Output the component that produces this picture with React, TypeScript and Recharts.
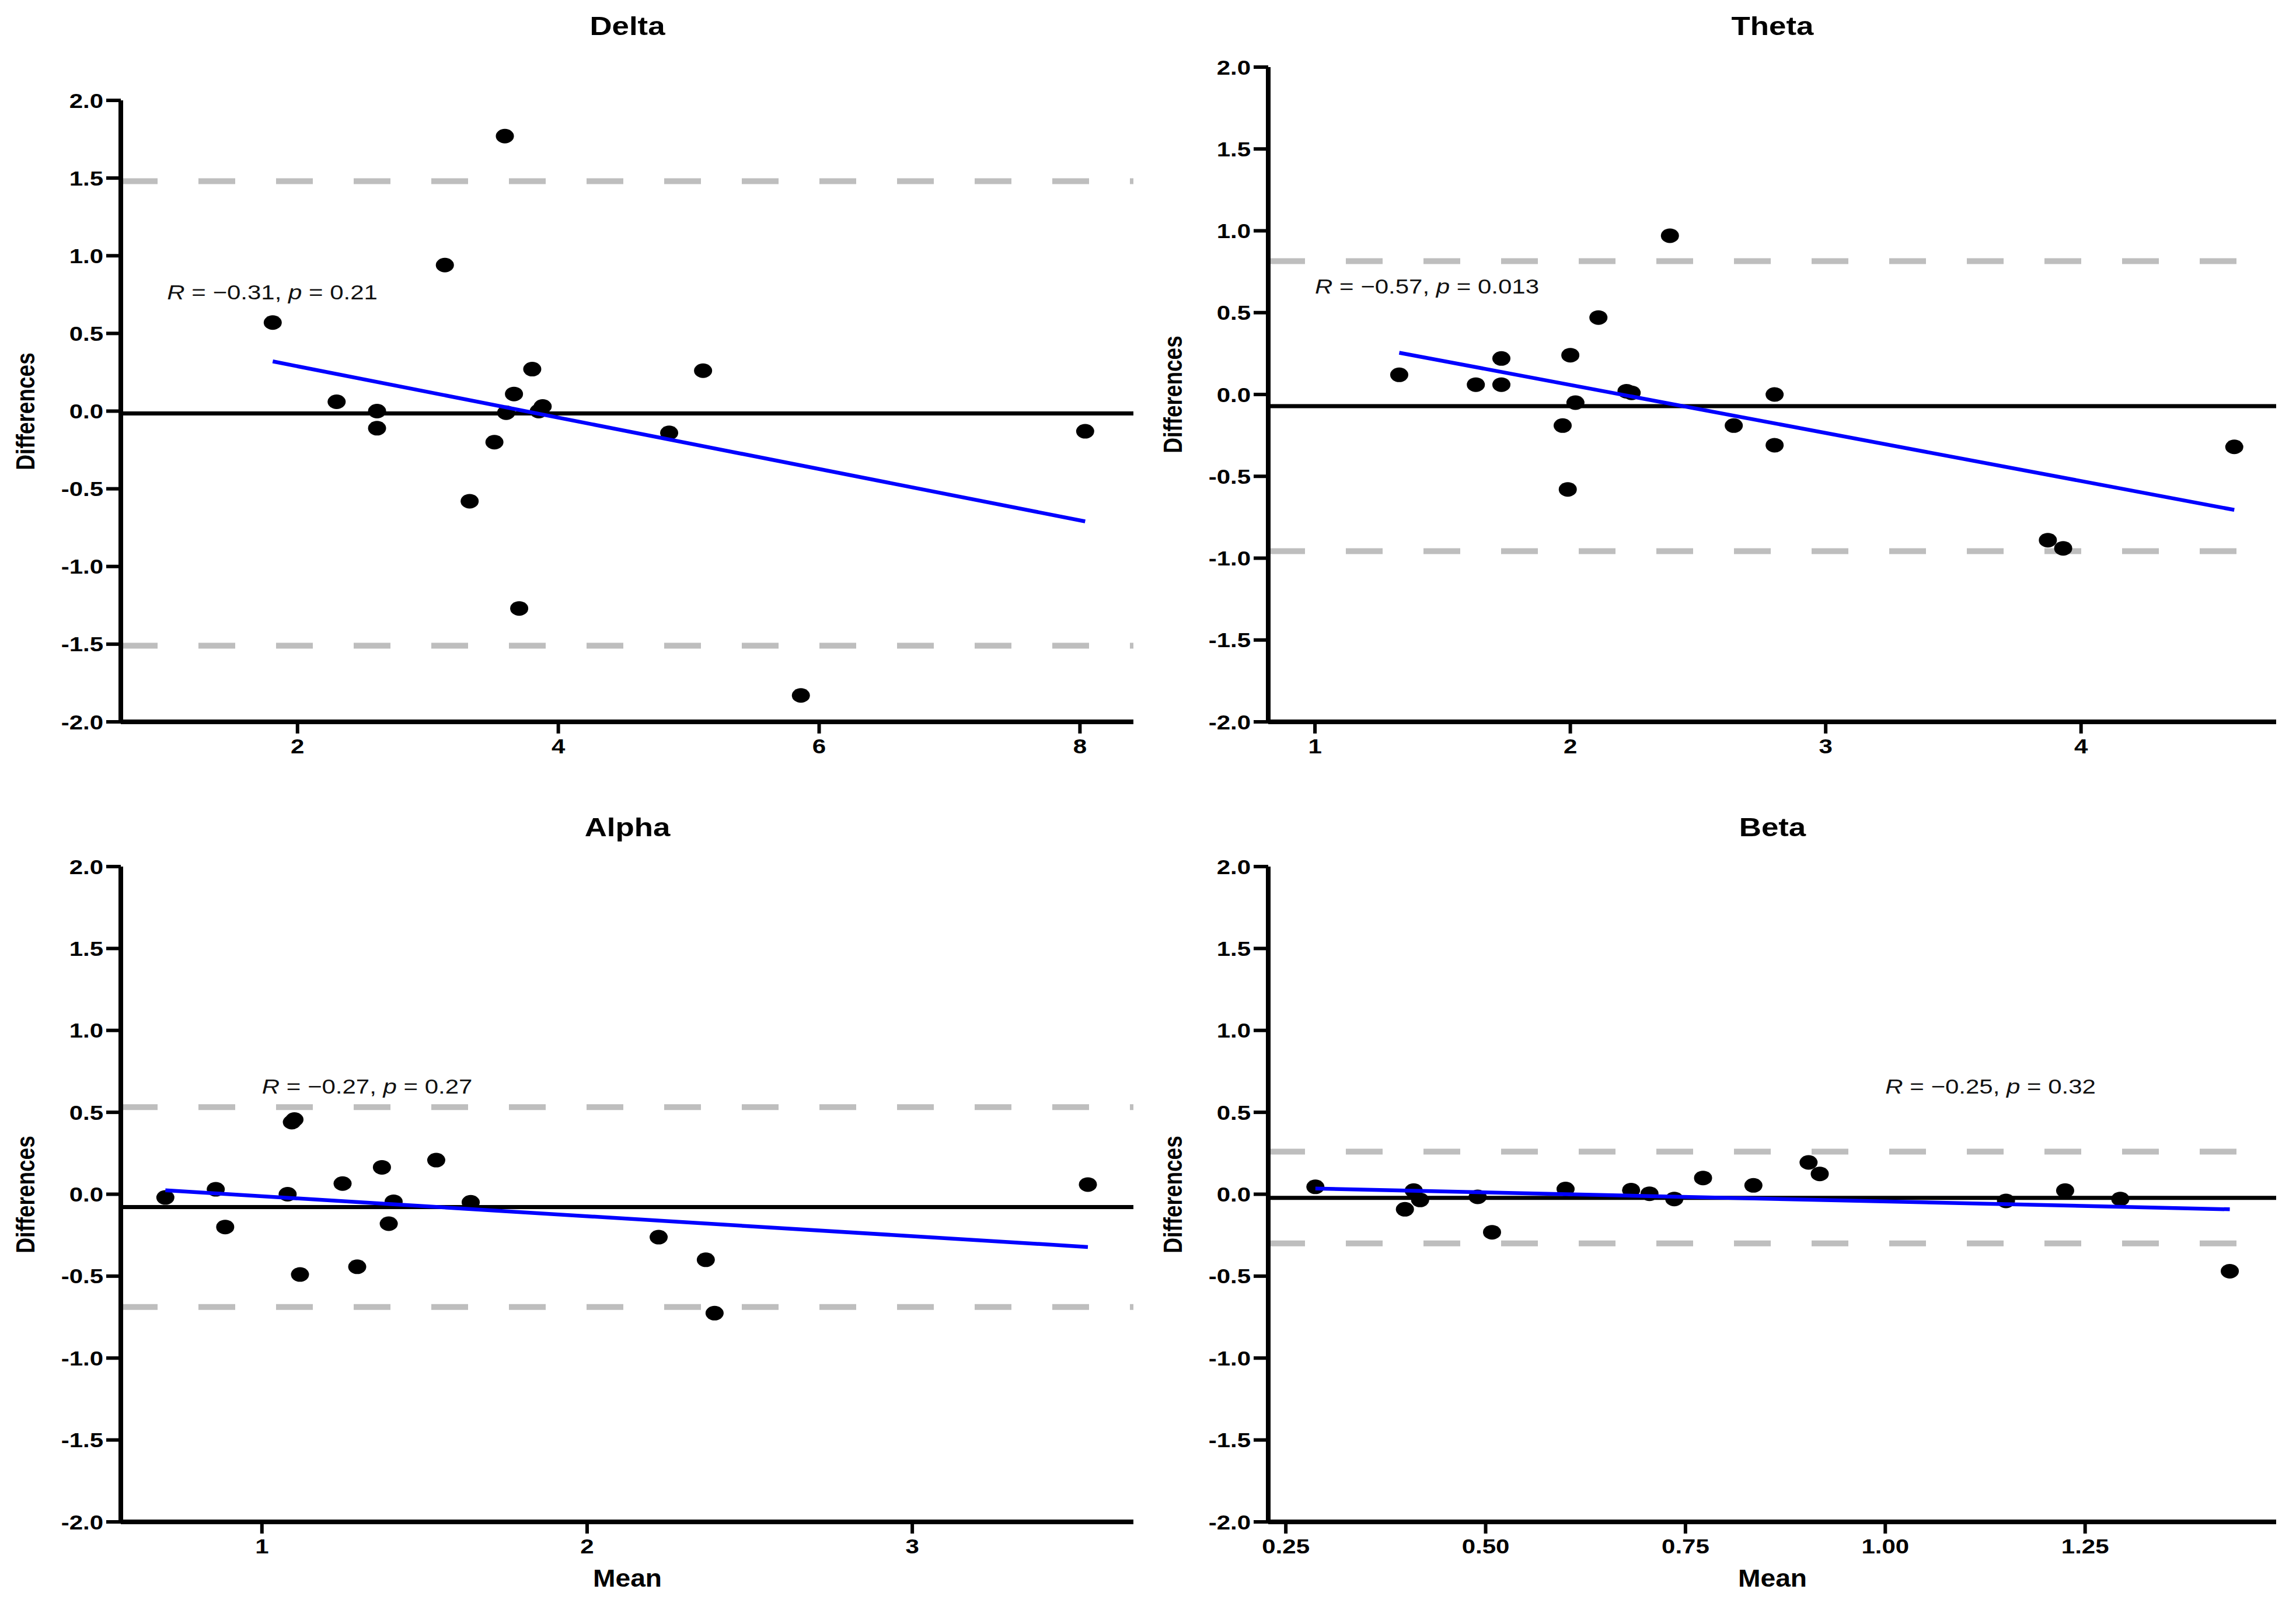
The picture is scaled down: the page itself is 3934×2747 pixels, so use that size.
import React from 'react'
import {
  ScatterChart,
  Scatter,
  XAxis,
  YAxis,
  ReferenceLine,
} from 'recharts'

// Bland-Altman panels: mean of the two methods (x) vs difference (y)
const deltaMean = [1.81, 2.3, 2.61, 2.61, 3.13, 3.32, 3.51, 3.59, 3.6, 3.66, 3.7, 3.8, 3.85, 3.88, 4.85, 5.11, 5.86, 8.04]
const deltaDiff = [0.57, 0.06, 0.0, -0.11, 0.94, -0.58, -0.2, 1.77, -0.01, 0.11, -1.27, 0.27, 0.0, 0.03, -0.14, 0.26, -1.83, -0.13]

const thetaMean = [1.33, 1.63, 1.73, 1.73, 1.97, 2.0, 1.99, 2.02, 2.11, 2.22, 2.24, 2.39, 2.64, 2.8, 2.8, 3.87, 3.93, 4.6]
const thetaDiff = [0.12, 0.06, 0.22, 0.06, -0.19, 0.24, -0.58, -0.05, 0.47, 0.02, 0.01, 0.97, -0.19, 0.0, -0.31, -0.89, -0.94, -0.32]

const alphaMean = [0.703, 0.858, 0.887, 1.079, 1.092, 1.1, 1.117, 1.248, 1.293, 1.369, 1.39, 1.405, 1.536, 1.642, 2.22, 2.365, 2.392, 3.54]
const alphaDiff = [-0.02, 0.03, -0.2, 0.0, 0.44, 0.456, -0.49, 0.065, -0.443, 0.164, -0.18, -0.046, 0.208, -0.049, -0.262, -0.4, -0.726, 0.059]

const betaMean = [0.287, 0.399, 0.41, 0.418, 0.49, 0.508, 0.6, 0.682, 0.705, 0.736, 0.772, 0.835, 0.904, 0.918, 1.151, 1.225, 1.294, 1.431]
const betaDiff = [0.045, -0.092, 0.022, -0.035, -0.016, -0.232, 0.032, 0.025, 0.003, -0.029, 0.099, 0.054, 0.194, 0.124, -0.041, 0.022, -0.029, -0.47]

// fitted line end points (x, y)
const deltaFit = [[1.81, 0.32], [8.04, -0.71]]
const thetaFit = [[1.33, 0.255], [4.6, -0.705]]
const alphaFit = [[0.703, 0.024], [3.54, -0.322]]
const betaFit = [[0.287, 0.035], [1.431, -0.092]]

// bias, upper and lower limits of agreement
const deltaLimits = [-0.015, 1.48, -1.51]
const thetaLimits = [-0.071, 0.815, -0.957]
const alphaLimits = [-0.078, 0.532, -0.688]
const betaLimits = [-0.022, 0.26, -0.3]

const deltaXTicks = [2, 4, 6, 8]
const thetaXTicks = [1, 2, 3, 4]
const alphaXTicks = [1, 2, 3]
const betaXTicks = [0.25, 0.5, 0.75, 1.0, 1.25]
const yTicks = [-2, -1.5, -1, -0.5, 0, 0.5, 1, 1.5, 2]

const FONT = "'Liberation Sans', Arial, sans-serif"
const STRETCH = 1.2

const toPoints = (xs: number[], ys: number[]) => xs.map((x, i) => ({ x, y: ys[i] }))

function AxisTick(props: any) {
  const { x, y, payload, textAnchor, dy, fmt } = props
  return (
    <g transform={`translate(${x},${y}) scale(${STRETCH},1)`}>
      <text x={0} y={0} dy={dy} textAnchor={textAnchor} fontFamily={FONT} fontWeight={700} fontSize={35} fill="#000">
        {fmt(payload.value)}
      </text>
    </g>
  )
}

const Dot = (p: any) => <ellipse cx={p.cx} cy={p.cy} rx={15.5} ry={12.5} fill="#000" />

interface PanelProps {
  title: string
  means: number[]
  diffs: number[]
  fit: number[][]
  limits: number[]
  xDomain: [number, number]
  xTicks: number[]
  xFmt: (v: number) => string
  stat: { x: number; y: number; r: string; p: string }
  left: number
  top: number
  height: number
  plotTop: number
  yWidth: number
  right: number
  xHeight: number
  showXLabel: boolean
}

function Panel(props: PanelProps) {
  const width = 1967
  const points = toPoints(props.means, props.diffs)
  const fit = props.fit.map(([x, y]) => ({ x, y }))
  const plotLeft = props.left + props.yWidth
  const plotRight = props.left + width - props.right
  const plotBottom = props.top + props.height - props.xHeight
  const cx = (plotLeft + plotRight) / 2
  const [bias, upper, lower] = props.limits

  const statShape = (p: any) => (
    <g transform={`translate(${p.cx},${p.cy}) scale(${STRETCH},1)`}>
      <text x={0} y={0} fontFamily={FONT} fontSize={35} fill="#111">
        <tspan fontStyle="italic">R</tspan>
        {` = \u2212${props.stat.r}, `}
        <tspan fontStyle="italic">p</tspan>
        {` = ${props.stat.p}`}
      </text>
    </g>
  )

  return (
    <>
      <div
        style={{
          position: 'absolute',
          left: cx,
          top: props.top + props.plotTop - (props.top === 0 ? props.plotTop - 45 : 67),
          transform: `translate(-50%, -50%) scaleX(${STRETCH})`,
          fontFamily: FONT,
          fontWeight: 700,
          fontSize: 44,
          whiteSpace: 'nowrap',
        }}
      >
        {props.title}
      </div>
      <div
        style={{
          position: 'absolute',
          left: plotLeft - 162,
          top: (props.top + props.plotTop + plotBottom) / 2,
          transform: `translate(-50%, -50%) rotate(-90deg) scaleY(${STRETCH})`,
          fontFamily: FONT,
          fontWeight: 700,
          fontSize: 37,
          whiteSpace: 'nowrap',
        }}
      >
        Differences
      </div>
      {props.showXLabel && (
        <div
          style={{
            position: 'absolute',
            left: cx,
            top: 2705,
            transform: `translate(-50%, -50%) scaleX(1.1)`,
            fontFamily: FONT,
            fontWeight: 700,
            fontSize: 42,
            whiteSpace: 'nowrap',
          }}
        >
          Mean
        </div>
      )}
      <div style={{ position: 'absolute', left: props.left, top: props.top }}>
        <ScatterChart
          width={width}
          height={props.height}
          margin={{ top: props.plotTop, right: props.right, bottom: 0, left: 0 }}
        >
          <XAxis
            type="number"
            dataKey="x"
            domain={props.xDomain}
            ticks={props.xTicks}
            allowDataOverflow
            height={props.xHeight}
            axisLine={{ stroke: '#000', strokeWidth: 8 }}
            tickLine={{ stroke: '#000', strokeWidth: 6 }}
            tickSize={20}
            tickMargin={9}
            tick={(t: any) => <AxisTick {...t} dy="0.71em" textAnchor="middle" fmt={props.xFmt} />}
          />
          <YAxis
            type="number"
            dataKey="y"
            domain={[-2, 2]}
            ticks={yTicks}
            allowDataOverflow
            width={props.yWidth}
            axisLine={{ stroke: '#000', strokeWidth: 8 }}
            tickLine={{ stroke: '#000', strokeWidth: 6 }}
            tickSize={25}
            tickMargin={5}
            tick={(t: any) => <AxisTick {...t} dy="0.36em" textAnchor="end" fmt={(v: number) => v.toFixed(1)} />}
          />
          <Scatter data={points} shape={Dot} isAnimationActive={false} />
          <ReferenceLine y={bias} stroke="#000" strokeWidth={7} />
          <ReferenceLine y={upper} stroke="#BEBEBE" strokeWidth={10} strokeDasharray="63 70" />
          <ReferenceLine y={lower} stroke="#BEBEBE" strokeWidth={10} strokeDasharray="63 70" />
          <Scatter
            data={fit}
            line={{ stroke: '#0000FF', strokeWidth: 6.5 }}
            lineType="joint"
            shape={() => <g />}
            isAnimationActive={false}
          />
          <Scatter data={[{ x: props.stat.x, y: props.stat.y }]} shape={statShape} isAnimationActive={false} />
        </ScatterChart>
      </div>
    </>
  )
}

export default function App() {
  const plain = (v: number) => String(v)
  const two = (v: number) => v.toFixed(2)
  return (
    <div style={{ position: 'absolute', left: 0, top: 0, width: 3934, height: 2747, background: '#fff' }}>
      <Panel
        title="Delta"
        means={deltaMean}
        diffs={deltaDiff}
        fit={deltaFit}
        limits={deltaLimits}
        xDomain={[0.645, 8.41]}
        xTicks={deltaXTicks}
        xFmt={plain}
        stat={{ x: 1.0, y: 0.72, r: '0.31', p: '0.21' }}
        left={0}
        top={0}
        height={1300}
        plotTop={172}
        yWidth={207}
        right={25}
        xHeight={63}
        showXLabel={false}
      />
      <Panel
        title="Theta"
        means={thetaMean}
        diffs={thetaDiff}
        fit={thetaFit}
        limits={thetaLimits}
        xDomain={[0.817, 4.764]}
        xTicks={thetaXTicks}
        xFmt={plain}
        stat={{ x: 1.0, y: 0.615, r: '0.57', p: '0.013' }}
        left={1967}
        top={0}
        height={1300}
        plotTop={115}
        yWidth={206}
        right={34}
        xHeight={63}
        showXLabel={false}
      />
      <Panel
        title="Alpha"
        means={alphaMean}
        diffs={alphaDiff}
        fit={alphaFit}
        limits={alphaLimits}
        xDomain={[0.566, 3.68]}
        xTicks={alphaXTicks}
        xFmt={plain}
        stat={{ x: 1.0, y: 0.615, r: '0.27', p: '0.27' }}
        left={0}
        top={1300}
        height={1447}
        plotTop={185}
        yWidth={207}
        right={25}
        xHeight={139}
        showXLabel
      />
      <Panel
        title="Beta"
        means={betaMean}
        diffs={betaDiff}
        fit={betaFit}
        limits={betaLimits}
        xDomain={[0.228, 1.489]}
        xTicks={betaXTicks}
        xFmt={two}
        stat={{ x: 1.0, y: 0.615, r: '0.25', p: '0.32' }}
        left={1967}
        top={1300}
        height={1447}
        plotTop={185}
        yWidth={206}
        right={34}
        xHeight={139}
        showXLabel
      />
    </div>
  )
}
